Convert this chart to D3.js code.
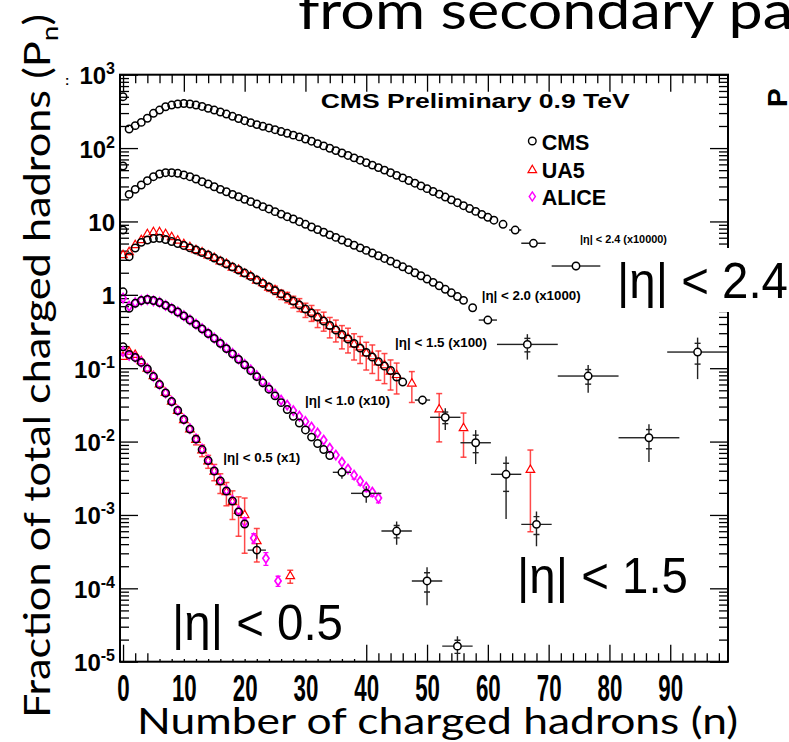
<!DOCTYPE html>
<html>
<head>
<meta charset="utf-8">
<script src="https://cdnjs.cloudflare.com/ajax/libs/d3/7.8.5/d3.min.js"></script>
<style>
html,body{margin:0;padding:0;background:#fff;}
svg{display:block;}
</style>
</head>
<body>
<div id="chart"></div>
<script>
"use strict";
// valeurs (P_n déjà multiplié par le facteur de chaque courbe)

// CMS |eta|<0.5 (x1), n = 0..20
const cms05 = [0.196, 0.154, 0.140, 0.120, 0.0975, 0.0770, 0.0599, 0.0459, 0.0351, 0.0265, 0.0200,
    0.0148, 0.0108, 0.00779, 0.00551, 0.00397, 0.00290, 0.00212, 0.00155, 0.00110, 0.000752];
const cms05TailN = [22];
const cms05TailP = [0.000332];
const cms05TailEx = [1.5];
const cms05TailEy = [0.00008];

// CMS |eta|<1.0 (x10), n = 0..34
const cms10 = [1.10, 0.655, 0.766, 0.836, 0.863, 0.836, 0.785, 0.719, 0.651, 0.583, 0.517, 0.453, 0.396,
    0.344, 0.297, 0.255, 0.218, 0.185, 0.157, 0.132, 0.111, 0.0927, 0.0767, 0.0632, 0.0517, 0.0420,
    0.0339, 0.0273, 0.0221, 0.0179, 0.0144, 0.0115, 0.00940, 0.00779, 0.00645];
const cms10TailN = [36, 40, 45, 50, 55];
const cms10TailP = [0.00381, 0.00197, 0.000603, 0.000126, 0.0000163];
const cms10TailEx = [1.5, 2.5, 2.5, 2.5, 2.5];
const cms10TailEy = [0.0007, 0.0005, 0.00021, 0.000067, 0.000006];

// CMS |eta|<1.5 (x100), n = 0..46
const cms15 = [7.64, 3.31, 4.34, 5.19, 5.58, 5.85, 5.89, 5.67, 5.33, 5.00, 4.70, 4.37, 4.08, 3.77, 3.49,
    3.17, 2.89, 2.63, 2.39, 2.18, 1.98, 1.78, 1.59, 1.43, 1.28, 1.14, 1.03, 0.919, 0.823, 0.726, 0.640,
    0.565, 0.498, 0.439, 0.382, 0.331, 0.288, 0.250, 0.217, 0.188, 0.164, 0.142, 0.123, 0.107, 0.0930,
    0.0758, 0.0648];
const cms15TailN = [49.25, 53, 58, 63, 68];
const cms15TailP = [0.0368, 0.0214, 0.00964, 0.00358, 0.000745];
const cms15TailEx = [1.25, 2.5, 2.5, 2.5, 2.5];
const cms15TailEy = [0.005, 0.007, 0.0047, 0.0027, 0.00037];

// CMS |eta|<2.0 (x1000), n = 0..56
const cms20 = [57.0, 23.4, 27.4, 31.4, 35.9, 40.7, 44.3, 46.2, 46.2, 45.3, 43.0, 40.7, 37.9, 34.8, 32.4,
    29.7, 27.4, 25.4, 23.4, 21.7, 20.0, 18.6, 17.3, 15.9, 14.8, 13.6, 12.6, 11.6, 10.8, 9.92, 9.14, 8.40,
    7.74, 7.13, 6.57, 6.06, 5.58, 5.15, 4.74, 4.37, 4.03, 3.71, 3.41, 3.13, 2.88, 2.64, 2.41, 2.20, 2.00,
    1.82, 1.64, 1.48, 1.33, 1.19, 1.065, 0.948, 0.841];
const cms20TailN = [57.5, 60, 66.5, 76.5, 86.5];
const cms20TailP = [0.667, 0.453, 0.211, 0.0782, 0.01128];
const cms20TailEx = [0.5, 1.5, 5, 5, 5];
const cms20TailEy = [0.03, 0.03, 0.08, 0.032, 0.006];

// CMS |eta|<2.4 (x10000), n = 0..61
const cms24 = [501, 182, 202, 224, 255, 298, 330, 366, 386, 399, 405, 399, 386, 369, 348, 330, 310, 291,
    271, 253, 236, 222, 209, 198, 188, 178, 168, 159, 150, 142, 133, 124, 115, 107, 99.5, 92.4, 85.7,
    79.4, 73.6, 68.3, 63.4, 58.6, 54.2, 50.1, 46.2, 42.5, 39.2, 36.1, 33.2, 30.5, 28.0, 25.6, 23.5, 21.5,
    19.7, 18.0, 16.4, 15.0, 13.7, 12.5, 11.4, 10.4];
const cms24TailN = [62.5, 64.5, 67.5, 74.5, 94.5];
const cms24TailP = [9.14, 7.64, 5.04, 2.47, 0.166];
const cms24TailEx = [0.5, 1, 2, 4, 5];
const cms24TailEy = [0.3, 0.3, 0.35, 0.3, 0.095];

// UA5 |eta|<0.5 (x1) n = 0..20, erreurs relatives
const ua505 = [0.143, 0.168, 0.152, 0.125, 0.0990, 0.0780, 0.0605, 0.0462, 0.0350, 0.0262, 0.0197,
    0.0147, 0.0106, 0.00760, 0.00540, 0.00390, 0.00280, 0.00205, 0.00150, 0.00114, 0.00100];
const ua505Rel = [0.03, 0.03, 0.03, 0.03, 0.03, 0.03, 0.03, 0.04, 0.04, 0.05, 0.07, 0.09, 0.15, 0.18,
    0.2, 0.25, 0.3, 0.35, 0.42, 0.55, 0.7];
const ua505TailN = [22, 27.5];
const ua505TailP = [0.00044, 0.000147];
const ua505TailRel = [0.48, 0.2];

// UA5 |eta|<1.5 (x100) n = 0..45
const ua515 = [3.49, 3.83, 4.77, 5.58, 6.74, 7.18, 7.18, 6.74, 6.13, 5.50, 4.93, 4.48, 4.08, 3.80, 3.46,
    3.20, 2.86, 2.66, 2.36, 2.20, 1.95, 1.80, 1.57, 1.45, 1.26, 1.16, 1.01, 0.93, 0.81, 0.74, 0.63, 0.575,
    0.49, 0.45, 0.375, 0.34, 0.282, 0.256, 0.212, 0.193, 0.160, 0.146, 0.120, 0.110, 0.090, 0.081];
const ua515Rel = [0.03, 0.03, 0.03, 0.03, 0.03, 0.03, 0.03, 0.03, 0.03, 0.03, 0.03, 0.03, 0.03, 0.035,
    0.04, 0.045, 0.05, 0.055, 0.06, 0.07, 0.075, 0.085, 0.095, 0.105, 0.115, 0.13, 0.145, 0.16, 0.18, 0.2,
    0.22, 0.245, 0.27, 0.29, 0.31, 0.33, 0.35, 0.37, 0.39, 0.4, 0.41, 0.42, 0.43, 0.44, 0.44, 0.45];
const ua515TailN = [47.5, 52, 56, 67];
const ua515TailP = [0.062, 0.0275, 0.0153, 0.00413];
const ua515TailRel = [0.45, 0.64, 0.6, 0.857];

// ALICE |eta|<0.5 (x1) n = 0..20
const alice05 = [0.168, 0.150, 0.141, 0.121, 0.0978, 0.0772, 0.0602, 0.0462, 0.0352, 0.0267, 0.0201,
    0.0150, 0.0109, 0.00790, 0.00560, 0.00405, 0.00296, 0.00217, 0.00158, 0.00114, 0.00080];
const alice05Rel = [0.02, 0.02, 0.02, 0.02, 0.02, 0.02, 0.02, 0.02, 0.02, 0.02, 0.02, 0.02, 0.02, 0.02,
    0.02, 0.04, 0.06, 0.08, 0.1, 0.12, 0.14];
const alice05TailN = [21.5, 23.5, 25.5];
const alice05TailP = [0.000484, 0.000256, 0.000126];
const alice05TailEy = [0.00007, 0.00005, 0.00002];

// ALICE |eta|<1.0 (x10) n = 0..42
const alice10 = [0.905, 0.70, 0.78, 0.84, 0.86, 0.83, 0.79, 0.72, 0.65, 0.585, 0.52, 0.455, 0.398, 0.346,
    0.299, 0.257, 0.220, 0.187, 0.159, 0.134, 0.113, 0.0950, 0.0790, 0.0655, 0.0540, 0.0445, 0.0368,
    0.0315, 0.0265, 0.0223, 0.0188, 0.0158, 0.0131, 0.0105, 0.00816, 0.00655, 0.00526, 0.00422, 0.00350,
    0.00290, 0.00240, 0.00205, 0.00170];
const alice10Rel = [0.02, 0.02, 0.02, 0.02, 0.02, 0.02, 0.02, 0.02, 0.02, 0.02, 0.02, 0.02, 0.02, 0.02,
    0.02, 0.02, 0.02, 0.02, 0.02, 0.02, 0.02, 0.03, 0.03, 0.04, 0.04, 0.05, 0.05, 0.06, 0.07, 0.07, 0.08,
    0.08, 0.09, 0.09, 0.1, 0.1, 0.11, 0.11, 0.12, 0.12, 0.13, 0.13, 0.14];

// étiquettes des courbes
const curveLabels = ["|η| < 2.4 (x10000)", "|η| < 2.0 (x1000)", "|η| < 1.5 (x100)", "|η| < 1.0 (x10)", "|η| < 0.5 (x1)"];
const bigLabels = ["|η| < 2.4", "|η| < 1.5", "|η| < 0.5"];
const legendNames = ["CMS", "UA5", "ALICE"];
const xTickLabels = [0, 10, 20, 30, 40, 50, 60, 70, 80, 90];
const yDecades = [-5, -4, -3, -2, -1, 0, 1, 2, 3];

const W = 789, H = 742;
const frame = {left: 120, right: 728, top: 74.7, bottom: 661.7};
const tickFont = "'Liberation Sans', Arial, Helvetica, sans-serif";
const titleFont = "Lato, 'Noto Sans', sans-serif";

const svg = d3.select('#chart').append('svg').attr('width', W).attr('height', H)
    .style('background', '#fff');

const x = d3.scaleLinear().domain([-0.5, 99.5]).range([frame.left, frame.right]);
const y = d3.scaleLog().domain([1e-5, 1e3]).range([frame.bottom, frame.top]);

function densePts(vals, errs) {
    return vals.map((p, i) => ({n: i, p: p, ex: 0.5, ey: errs ? p * errs[i] : 0}));
}
function tailPts(ns, ps, exs, eys, rel) {
    return ns.map((n, i) => ({
        n: n, p: ps[i], ex: exs ? exs[i] : 0.5,
        ey: eys ? (rel ? ps[i] * eys[i] : eys[i]) : 0
    }));
}

const cmsSeries = [
    densePts(cms05).concat(tailPts(cms05TailN, cms05TailP, cms05TailEx, cms05TailEy)),
    densePts(cms10).concat(tailPts(cms10TailN, cms10TailP, cms10TailEx, cms10TailEy)),
    densePts(cms15).concat(tailPts(cms15TailN, cms15TailP, cms15TailEx, cms15TailEy)),
    densePts(cms20).concat(tailPts(cms20TailN, cms20TailP, cms20TailEx, cms20TailEy)),
    densePts(cms24).concat(tailPts(cms24TailN, cms24TailP, cms24TailEx, cms24TailEy))
];
const ua5Series = [
    densePts(ua505, ua505Rel).concat(tailPts(ua505TailN, ua505TailP, null, ua505TailRel, true)),
    densePts(ua515, ua515Rel).concat(tailPts(ua515TailN, ua515TailP, null, ua515TailRel, true))
];
const aliceSeries = [
    densePts(alice05, alice05Rel).concat(tailPts(alice05TailN, alice05TailP, null, alice05TailEy)),
    densePts(alice10, alice10Rel)
];

// axes
const axisG = svg.append('g');
const xMinor = d3.range(0, 100, 2).filter(v => v % 10 != 0);
const yMajor = yDecades.map(e => Math.pow(10, e));
const yMinor = [];
yDecades.slice(0, -1).forEach(e => { for (let m = 2; m < 10; m++) yMinor.push(m * Math.pow(10, e)); });

function styleAxis(g) {
    g.select('.domain').remove();
    g.selectAll('line').attr('stroke', '#000').attr('stroke-width', 1.3);
}
axisG.append('g').attr('transform', `translate(0,${frame.bottom})`)
    .call(d3.axisBottom(x).tickValues(xTickLabels).tickSizeInner(-17).tickSizeOuter(0).tickFormat(d3.format('d')))
    .call(styleAxis)
    .call(g => g.selectAll('text').attr('y', 39).attr('dy', null)
        .attr('transform', 'scale(0.62,1)')
        .attr('fill', '#000').attr('font-family', tickFont).attr('font-weight', 'bold').attr('font-size', 36));
axisG.append('g').attr('transform', `translate(0,${frame.bottom})`)
    .call(d3.axisBottom(x).tickValues(xMinor).tickSizeInner(-8.5).tickSizeOuter(0).tickFormat(''))
    .call(styleAxis);
axisG.append('g').attr('transform', `translate(0,${frame.top})`)
    .call(d3.axisTop(x).tickValues(xTickLabels).tickSizeInner(-17).tickSizeOuter(0).tickFormat(''))
    .call(styleAxis);
axisG.append('g').attr('transform', `translate(0,${frame.top})`)
    .call(d3.axisTop(x).tickValues(xMinor).tickSizeInner(-8.5).tickSizeOuter(0).tickFormat(''))
    .call(styleAxis);
[[d3.axisLeft, frame.left], [d3.axisRight, frame.right]].forEach(([ax, px]) => {
    axisG.append('g').attr('transform', `translate(${px},0)`)
        .call(ax(y).tickValues(yMajor).tickSizeInner(-18).tickSizeOuter(0).tickFormat(''))
        .call(styleAxis);
    axisG.append('g').attr('transform', `translate(${px},0)`)
        .call(ax(y).tickValues(yMinor).tickSizeInner(-9).tickSizeOuter(0).tickFormat(''))
        .call(styleAxis);
});

// labels de l'axe y en puissances de 10
const yLab = axisG.append('g').attr('font-family', tickFont).attr('font-weight', 'bold')
    .attr('text-anchor', 'end').attr('fill', '#000');
yDecades.forEach(e => {
    const t = yLab.append('text').attr('x', 115).attr('y', y(Math.pow(10, e)) + 9.5).attr('font-size', 24);
    if (e == 0) t.text('1');
    else if (e == 1) t.text('10');
    else {
        t.append('tspan').text('10');
        t.append('tspan').attr('dy', -10).attr('font-size', 16).text(e);
    }
});

// données
svg.append('clipPath').attr('id', 'clipPlot').append('rect')
    .attr('x', frame.left).attr('y', frame.top)
    .attr('width', frame.right - frame.left).attr('height', frame.bottom - frame.top);
const plot = svg.append('g').attr('clip-path', 'url(#clipPlot)');

function drawErrors(g, pts, o) {
    const eg = g.append('g').attr('stroke', o.color).attr('stroke-width', o.width)
        .attr('stroke-opacity', o.opacity || 1);
    function seg(x1, y1, x2, y2) {
        eg.append('line').attr('x1', x1).attr('y1', y1).attr('x2', x2).attr('y2', y2);
    }
    pts.forEach(d => {
        const cx = x(d.n), cy = y(d.p);
        if (d.ey > 0) {
            const y1 = y(d.p + d.ey);
            const y2 = d.p - d.ey > 1e-7 ? y(d.p - d.ey) : frame.bottom + 5;
            if (cy - o.gap > y1) {
                seg(cx, y1, cx, cy - o.gap);
                if (o.cap) seg(cx - o.cap, y1, cx + o.cap, y1);
            }
            if (y2 > cy + o.gap) {
                seg(cx, cy + o.gap, cx, y2);
                if (o.cap) seg(cx - o.cap, y2, cx + o.cap, y2);
            }
            if (o.stat) {
                const s1 = y(d.p + d.ey * o.stat), s2 = y(d.p - d.ey * o.stat);
                if (cy - s1 > o.gap + 1) seg(cx - 3, s1, cx + 3, s1);
                if (s2 - cy > o.gap + 1) seg(cx - 3, s2, cx + 3, s2);
            }
        }
        if (o.xbar && d.ex > 0) {
            const x1 = x(d.n - d.ex), x2 = x(d.n + d.ex);
            if (cx - o.gap > x1) seg(x1, cy, cx - o.gap, cy);
            if (x2 > cx + o.gap) seg(cx + o.gap, cy, x2, cy);
        }
    });
}

const triPath = "M0,-4.8L4.3,2.6L-4.3,2.6Z";
const diaPath = "M0,-4.6L3.1,0L0,4.6L-3.1,0Z";

ua5Series.forEach(s => {
    drawErrors(plot, s, {color: '#ff2a2a', width: 1.5, gap: 3.5, cap: 3, opacity: 0.85});
    plot.append('g').selectAll('path').data(s).join('path')
        .attr('d', triPath).attr('transform', d => `translate(${x(d.n)},${y(d.p)})`)
        .attr('fill', 'none').attr('stroke', '#ff0000').attr('stroke-width', 1.2);
});
aliceSeries.forEach(s => {
    drawErrors(plot, s, {color: '#ff00ff', width: 1.3, gap: 4, cap: 2.5});
    plot.append('g').selectAll('path').data(s).join('path')
        .attr('d', diaPath).attr('transform', d => `translate(${x(d.n)},${y(d.p)})`)
        .attr('fill', 'none').attr('stroke', '#ff00ff').attr('stroke-width', 1.7);
});
cmsSeries.forEach(s => {
    drawErrors(plot, s, {color: '#222', width: 1.4, gap: 3.8, xbar: true, stat: 0.55});
    plot.append('g').selectAll('circle').data(s).join('circle')
        .attr('cx', d => x(d.n)).attr('cy', d => y(d.p)).attr('r', 3.7)
        .attr('fill', 'none').attr('stroke', '#000').attr('stroke-width', 1.5);
});

// cadre
svg.append('rect').attr('x', frame.left).attr('y', frame.top)
    .attr('width', frame.right - frame.left).attr('height', frame.bottom - frame.top)
    .attr('fill', 'none').attr('stroke', '#000').attr('stroke-width', 2);

// textes dans le cadre
svg.append('text').attr('x', 320.7).attr('y', 108.3).attr('font-family', tickFont)
    .attr('font-weight', 'bold').attr('font-size', 21).attr('textLength', 309)
    .attr('lengthAdjust', 'spacingAndGlyphs').text('CMS Preliminary 0.9 TeV');

const leg = svg.append('g').attr('font-family', tickFont).attr('font-weight', 'bold').attr('font-size', 21.5);
const legY = [141, 169, 196.5];
leg.append('circle').attr('cx', 532.3).attr('cy', legY[0]).attr('r', 3.8)
    .attr('fill', 'none').attr('stroke', '#000').attr('stroke-width', 1.4);
leg.append('path').attr('d', triPath).attr('transform', `translate(532.3,${legY[1] + 1})`)
    .attr('fill', 'none').attr('stroke', '#ff0000').attr('stroke-width', 1.2);
leg.append('path').attr('d', diaPath).attr('transform', `translate(532.3,${legY[2]})`)
    .attr('fill', 'none').attr('stroke', '#ff00ff').attr('stroke-width', 1.4);
legendNames.forEach((t, i) => {
    leg.append('text').attr('x', 541.7).attr('y', legY[i] + 8.5).text(t);
});

const curveLabPos = [[580, 243, 11, 87], [481.7, 300, 13.5, 99], [395, 347, 13.5, 92], [305, 405, 13.5, 85], [223.3, 462, 13.5, 77]];
curveLabels.forEach((t, i) => {
    const p = curveLabPos[i];
    svg.append('text').attr('x', p[0]).attr('y', p[1]).attr('font-family', tickFont)
        .attr('font-weight', 'bold').attr('font-size', p[2]).attr('textLength', p[3])
        .attr('lengthAdjust', 'spacingAndGlyphs').text(t);
});

// grands labels sur fond blanc
const bigPos = [[617, 298, [608, 248, 181, 64]], [517, 593, [512, 552, 188, 54]], [172, 640, [152, 600, 212, 59]]];
bigLabels.forEach((t, i) => {
    const p = bigPos[i], b = p[2];
    svg.append('rect').attr('x', b[0]).attr('y', b[1]).attr('width', b[2]).attr('height', b[3]).attr('fill', '#fff');
    svg.append('text').attr('x', p[0]).attr('y', p[1]).attr('font-family', tickFont)
        .attr('font-size', 50).attr('textLength', 171).attr('lengthAdjust', 'spacingAndGlyphs')
        .attr('fill', '#000').text(t);
});

// titres des axes
svg.append('text').attr('x', 137).attr('y', 734).attr('font-family', titleFont).attr('font-size', 37)
    .attr('textLength', 601).attr('lengthAdjust', 'spacingAndGlyphs').text('Number of charged hadrons (n)');
const yTitle = svg.append('text').attr('transform', 'translate(50,718) rotate(-90)')
    .attr('font-family', titleFont).attr('font-size', 37)
    .attr('textLength', 704).attr('lengthAdjust', 'spacingAndGlyphs');
yTitle.append('tspan').text('Fraction of  total charged hadrons (P');
yTitle.append('tspan').attr('font-size', 24).attr('dy', 8).text('n');
yTitle.append('tspan').attr('dy', -8).text(')');

// morceaux de la diapo autour
svg.append('text').attr('x', 298).attr('y', 29).attr('font-family', titleFont).attr('font-size', 52)
    .attr('textLength', 495).attr('lengthAdjust', 'spacingAndGlyphs').text('from secondary pa');
svg.append('text').attr('transform', 'translate(787,107) rotate(-90)').attr('font-family', tickFont)
    .attr('font-weight', 'bold').attr('font-size', 28).text('P');
svg.append('text').attr('x', 65).attr('y', 85).attr('font-family', tickFont)
    .attr('font-weight', 'bold').attr('font-size', 13).text(':');
</script>
</body>
</html>
